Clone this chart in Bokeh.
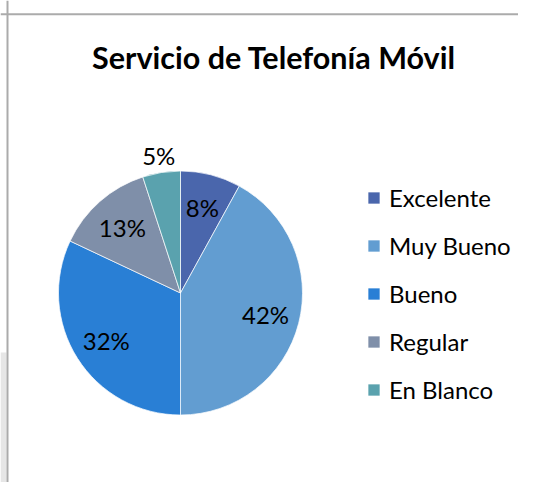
import math
from bokeh.plotting import figure
from bokeh.models import (ColumnDataSource, Range1d, Legend, LegendItem, Label,
                          Span, LabelSet, BoxAnnotation)
from bokeh.core.properties import value
from bokeh.embed import file_html
from bokeh.resources import INLINE

# ---- data ----
title_text = "Servicio de Telefonía Móvil"
categories = ["Excelente", "Muy Bueno", "Bueno", "Regular", "En Blanco"]
values = [8, 42, 32, 13, 5]
colors = ["#4A66AC", "#629DD1", "#297FD5", "#7F8FA9", "#5AA2AE"]
label_pos = ["inside", "inside", "inside", "inside", "outside"]

# ---- layout (pixel-mapped data space) ----
W, H = 518, 482
CX, CY, R = 180, 189.5, 122

total = float(sum(values))
starts, ends, lx, ly, texts = [], [], [], [], []
cum = 0.0
for v, pos in zip(values, label_pos):
    a0 = math.pi / 2 - 2 * math.pi * cum / total
    cum += v
    a1 = math.pi / 2 - 2 * math.pi * cum / total
    starts.append(a0)
    ends.append(a1)
    mid = (a0 + a1) / 2
    rr = R * (0.72 if pos == "inside" else 1.14)
    lx.append(CX + rr * math.cos(mid))
    ly.append(CY + rr * math.sin(mid))
    texts.append(f"{round(100 * v / total)}%")

src = ColumnDataSource(dict(cat=categories, val=values, color=colors,
                            start=starts, end=ends, lx=lx, ly=ly, txt=texts))

p = figure(width=W, height=H, x_range=Range1d(0, W), y_range=Range1d(0, H),
           output_backend="svg", toolbar_location=None,
           x_axis_location=None, y_axis_location=None, min_border=0)
p.grid.visible = False
p.outline_line_color = None
p.background_fill_color = "white"
p.border_fill_color = "white"

r = p.wedge(x=CX, y=CY, radius=R, start_angle="start", end_angle="end",
            direction="clock", fill_color="color", line_color="white",
            line_alpha=0.7, line_width=1, source=src)

labels = LabelSet(x="lx", y="ly", text="txt", source=src,
                  text_align="center", text_baseline="middle",
                  text_font=value("Lato"), text_font_size=value("24px"),
                  text_color="#000000")
p.add_layout(labels)

p.add_layout(Label(x=273.5, y=H - 56, text=title_text, text_align="center",
                   text_baseline="middle", text_font="Lato",
                   text_font_style="bold", text_font_size="30.5px",
                   text_color="#000000"))

# screenshot shading at the far left and the chart-area border
p.add_layout(BoxAnnotation(left=0, right=6, bottom=0, top=H - 352,
                           fill_color="#E6E6E6", fill_alpha=1, line_color=None))
p.add_layout(Span(location=H - 13.8, dimension="width", line_color="#ABABAB", line_width=2))
p.add_layout(Span(location=7, dimension="height", line_color="#ABABAB", line_width=2))

items = [LegendItem(label=c, renderers=[r], index=i) for i, c in enumerate(categories)]
legend = Legend(items=items, location=(366, 78), orientation="vertical",
                border_line_color=None, background_fill_alpha=0,
                padding=0, margin=0, glyph_width=15, glyph_height=15,
                label_standoff=8, spacing=18, label_height=30,
                label_text_font="Lato", label_text_font_size="24px",
                label_text_color="#000000")
p.add_layout(legend)

open("out.html", "w").write(file_html(p, INLINE))
